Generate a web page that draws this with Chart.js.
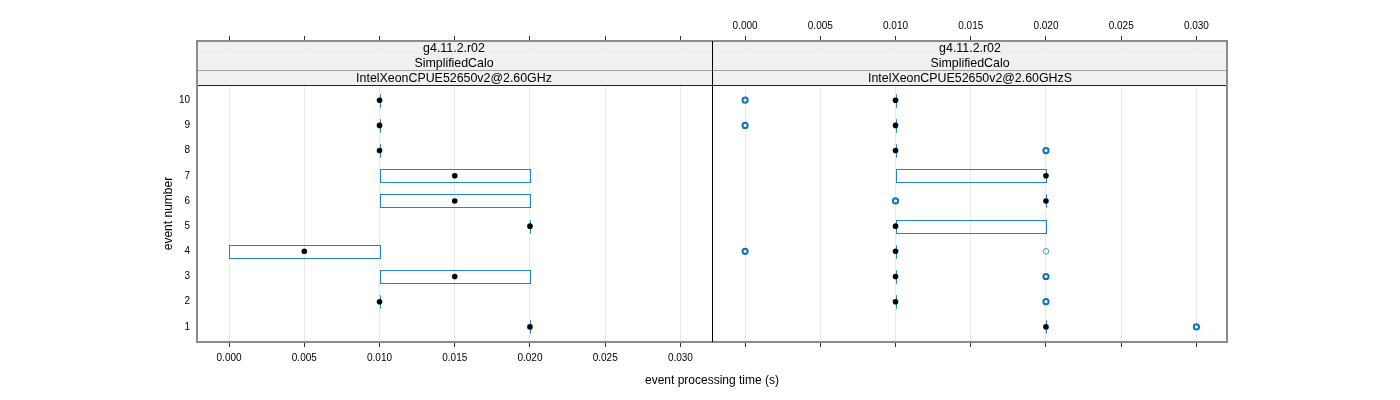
<!DOCTYPE html>
<html>
<head>
<meta charset="utf-8">
<script src="https://cdn.jsdelivr.net/npm/chart.js@4.4.1/dist/chart.umd.min.js"></script>
<style>
  html, body { margin:0; padding:0; background:#fff; }
  #wrap { position:relative; width:1400px; height:400px; font-family:"Liberation Sans", Arial, sans-serif; }
  #c1 { position:absolute; left:0; top:0; }
  #c2 { position:absolute; left:712px; top:0; }
  #xtitle { position:absolute; left:562px; width:300px; top:373px; line-height:14px; font-size:12px; text-align:center; color:#000; }
</style>
</head>
<body>
<div id="wrap">
  <canvas id="c1" width="712" height="400"></canvas>
  <canvas id="c2" width="688" height="400"></canvas>
  <div id="xtitle">event processing time (s)</div>
</div>
<script>
// event rows and x ticks
const rows = [1, 2, 3, 4, 5, 6, 7, 8, 9, 10];
const xTicks = [0.000, 0.005, 0.010, 0.015, 0.020, 0.025, 0.030];

// left panel: IntelXeonCPUE52650v2@2.60GHz
const leftStrips = ['g4.11.2.r02', 'SimplifiedCalo', 'IntelXeonCPUE52650v2@2.60GHz'];
const leftQ1  = [0.020, 0.010, 0.010, 0.000, 0.020, 0.010, 0.010, 0.010, 0.010, 0.010];
const leftQ3  = [0.020, 0.010, 0.020, 0.010, 0.020, 0.020, 0.020, 0.010, 0.010, 0.010];
const leftMed = [0.020, 0.010, 0.015, 0.005, 0.020, 0.015, 0.015, 0.010, 0.010, 0.010];

// right panel: IntelXeonCPUE52650v2@2.60GHzS
const rightStrips = ['g4.11.2.r02', 'SimplifiedCalo', 'IntelXeonCPUE52650v2@2.60GHzS'];
const rightQ1  = [0.020, 0.010, 0.010, 0.010, 0.010, 0.020, 0.010, 0.010, 0.010, 0.010];
const rightQ3  = [0.020, 0.010, 0.010, 0.010, 0.020, 0.020, 0.020, 0.010, 0.010, 0.010];
const rightMed = [0.020, 0.010, 0.010, 0.010, 0.010, 0.020, 0.020, 0.010, 0.010, 0.010];
const rightOutX = [0.030, 0.020, 0.020, 0.000, 0.010, 0.020, 0.000, 0.000];
const rightOutY = [1, 2, 3, 4, 6, 8, 9, 10];
const rightOutLightX = [0.020];
const rightOutLightY = [4];

const FONT = '"Liberation Sans", Arial, sans-serif';
const BOX_COL = '#2283c6';
const OUT_COL = '#0b74b8';

// strips, boxes and frame, drawn with the chart's own scales
const panelPlugin = {
  id: 'panel',
  beforeDatasetsDraw(chart){
    const o = chart.options.plugins.panel;
    const { ctx, chartArea: a, scales } = chart;
    const x = scales.x, y = scales.y;
    const stripBottom = y.getPixelForValue(10.6);
    const h = (stripBottom - a.top) / o.strips.length;
    ctx.save();

    o.strips.forEach((t, i)=>{
      const y0 = a.top + i*h;
      ctx.fillStyle = '#f0f0f0';
      ctx.fillRect(a.left, y0, a.right - a.left, h);
      ctx.strokeStyle = '#222';
      ctx.lineWidth = 1;
      const ly = Math.round(y0 + h) + 0.5;
      ctx.beginPath(); ctx.moveTo(a.left, ly); ctx.lineTo(a.right, ly); ctx.stroke();
      ctx.fillStyle = '#000';
      ctx.font = '12.4px ' + FONT;
      ctx.textAlign = 'center';
      ctx.textBaseline = 'middle';
      ctx.fillText(t, (a.left + a.right)/2, y0 + h/2 + 0.5);
    });

    // boxes (zero width ones become a short vertical line)
    ctx.strokeStyle = BOX_COL;
    ctx.lineWidth = 1;
    rows.forEach((r, i)=>{
      const x0 = Math.round(x.getPixelForValue(o.q1[i]));
      const x1 = Math.round(x.getPixelForValue(o.q3[i]));
      const yt = Math.round(y.getPixelForValue(r + 0.26));
      const yb = Math.round(y.getPixelForValue(r - 0.26));
      ctx.strokeRect(x0 + 0.5, yt + 0.5, x1 - x0, yb - yt);
    });

    // frame
    ctx.strokeStyle = '#8c8c8c';
    ctx.lineWidth = 2;
    ctx.beginPath();
    if(o.side === 'left'){
      ctx.moveTo(a.right + 1, a.top);
      ctx.lineTo(a.left + 1, a.top);
      ctx.lineTo(a.left + 1, a.bottom);
      ctx.lineTo(a.right + 1, a.bottom);
    } else {
      ctx.moveTo(a.left, a.top);
      ctx.lineTo(a.right - 1, a.top);
      ctx.lineTo(a.right - 1, a.bottom);
      ctx.lineTo(a.left, a.bottom);
    }
    ctx.stroke();
    if(o.side === 'right'){
      ctx.strokeStyle = '#000';
      ctx.lineWidth = 1;
      ctx.beginPath(); ctx.moveTo(a.left + 0.5, a.top); ctx.lineTo(a.left + 0.5, a.bottom); ctx.stroke();
    }
    ctx.restore();
  },
  afterDraw(chart){
    const o = chart.options.plugins.panel;
    if(!o.yTitle) return;
    const { ctx, scales } = chart;
    ctx.save();
    ctx.translate(169, scales.y.getPixelForValue(5.5));
    ctx.rotate(-Math.PI/2);
    ctx.fillStyle = '#000';
    ctx.font = '12px ' + FONT;
    ctx.textAlign = 'center';
    ctx.textBaseline = 'middle';
    ctx.fillText(o.yTitle, 0, 0);
    ctx.restore();
  }
};

function setXTicks(scale){ scale.ticks = xTicks.map(v=>({ value: v })); }

function makePanel(canvasId, side, strips, q1, q3, med, outliers){
  const datasets = [{
    data: rows.map((r, i)=>({ x: med[i], y: r })),
    pointRadius: 2.8,
    pointBackgroundColor: '#000',
    pointBorderWidth: 0,
    showLine: false
  }];
  outliers.forEach(o=> datasets.push(o));

  const isLeft = side === 'left';
  return new Chart(document.getElementById(canvasId), {
    type: 'scatter',
    data: { datasets },
    options: {
      responsive: false,
      animation: false,
      layout: { autoPadding: false, padding: { left: 0, right: isLeft ? 0 : 172, top: 0, bottom: 0 } },
      plugins: {
        legend: { display: false },
        tooltip: { enabled: false },
        panel: { side, strips, q1, q3, yTitle: isLeft ? 'event number' : null }
      },
      scales: {
        x: {
          type: 'linear', position: 'bottom', min: -0.0022, max: 0.0321,
          afterBuildTicks: setXTicks,
          afterFit: (s)=>{ s.height = 58; },
          border: { display: false },
          grid: { color: '#e9e9e9', lineWidth: 1, drawTicks: true, tickLength: 5, tickColor: '#333' },
          ticks: { display: isLeft, padding: 5, maxRotation: 0, color: '#000', font: { family: FONT, size: 10 },
                   callback: (v)=> Number(v).toFixed(3) }
        },
        x2: {
          type: 'linear', position: 'top', axis: 'x', min: -0.0022, max: 0.0321,
          afterBuildTicks: setXTicks,
          afterFit: (s)=>{ s.height = 41; },
          border: { display: false },
          grid: { drawOnChartArea: false, drawTicks: true, tickLength: 5, tickColor: '#333' },
          ticks: { display: !isLeft, padding: 4, maxRotation: 0, color: '#000', font: { family: FONT, size: 10 },
                   callback: (v)=> Number(v).toFixed(3) }
        },
        y: {
          type: 'linear', position: 'left', min: 0.4, max: 12.35, display: isLeft,
          afterBuildTicks: (s)=>{ s.ticks = rows.map(v=>({ value: v })); },
          afterFit: (s)=>{ s.width = isLeft ? 196 : 0; },
          border: { display: false },
          grid: { display: false, drawTicks: false },
          ticks: { padding: 6, color: '#000', font: { family: FONT, size: 10 } }
        }
      }
    },
    plugins: [panelPlugin]
  });
}

makePanel('c1', 'left', leftStrips, leftQ1, leftQ3, leftMed, []);

makePanel('c2', 'right', rightStrips, rightQ1, rightQ3, rightMed, [
  {
    data: rightOutX.map((v, i)=>({ x: v, y: rightOutY[i] })),
    pointRadius: 2.6, pointBorderWidth: 2, pointBorderColor: OUT_COL,
    pointBackgroundColor: 'rgba(0,0,0,0)', showLine: false
  },
  {
    data: rightOutLightX.map((v, i)=>({ x: v, y: rightOutLightY[i] })),
    pointRadius: 2.8, pointBorderWidth: 1, pointBorderColor: '#3d93cc',
    pointBackgroundColor: 'rgba(0,0,0,0)', showLine: false
  }
]);
</script>
</body>
</html>
